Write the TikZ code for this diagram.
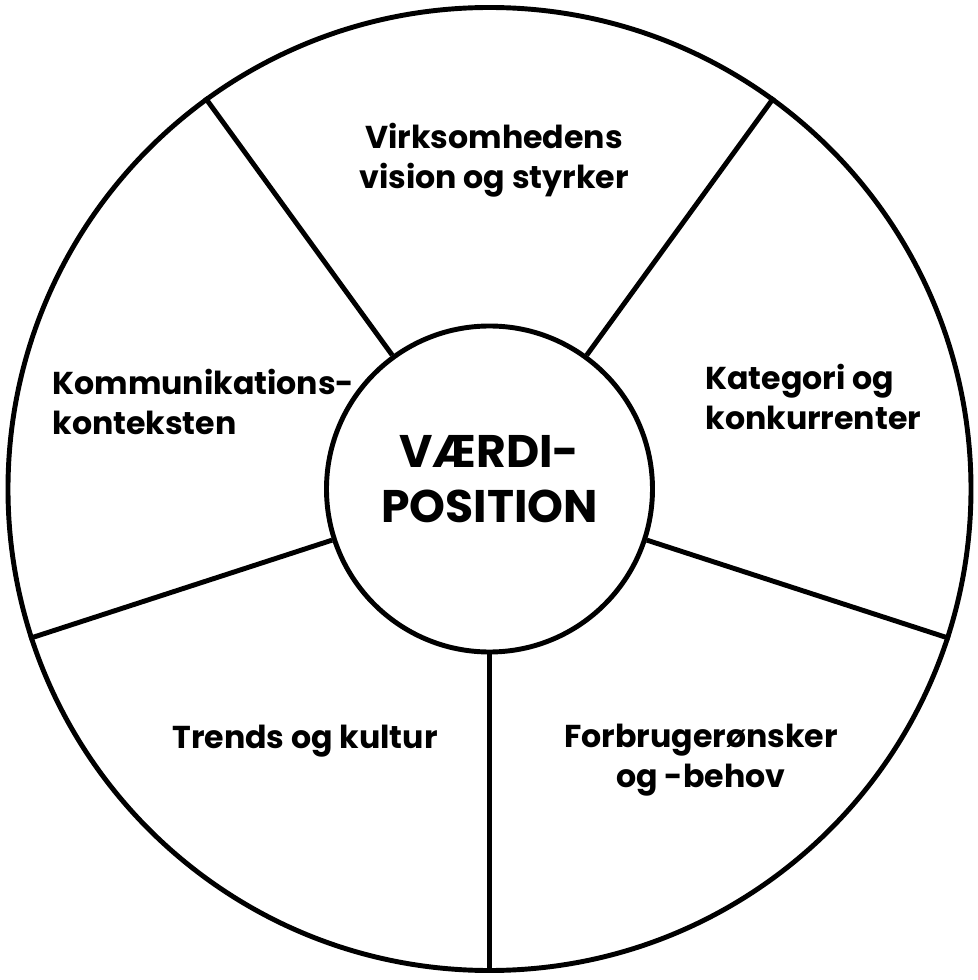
\documentclass[tikz,border=0pt]{standalone}
\usepackage{fontspec}
\setmainfont{Poppins}
\begin{document}
\begin{tikzpicture}[line width=2.8pt]
    \tikzstyle{ring}=[circle,draw=black,inner sep=0pt]
    \tikzstyle{sector}=[font=\bfseries\fontsize{18}{23}\selectfont, inner sep=0pt]
    \tikzstyle{core text}=[font=\bfseries\fontsize{26}{31}\selectfont, align=center, text depth=0.4cm]
    \useasboundingbox (-9.79,-9.82) rectangle (9.75,9.78);

    % Draw the outer wheel and the core circle
    \node[ring, minimum size=19.26cm] (wheel) at (0,0) {};
    \node[ring, minimum size=6.52cm, core text] (core) at (0,0) {VÆRDI-\\POSITION};

    % Draw the spokes between the two circles
    \foreach \angle in {-90,-18,54,126,198}
        \draw (core.\angle) -- (wheel.\angle);

    % Label the sectors
    \node[sector, align=center] (vision) at (0.09,6.58) {Virksomhedens\\vision og styrker};
    \node[sector, align=left, anchor=west] (kategori) at (4.27,1.84) {Kategori og\\konkurrenter};
    \node[sector, align=left, anchor=west] (kontekst) at (-8.79,1.74) {Kommunikations-\\konteksten};
    \node[sector, align=center] (trends) at (-3.69,-5.04) {Trends og kultur};
    \node[sector, align=center] (forbruger) at (4.23,-5.42) {Forbrugerønsker\\og -behov};

\end{tikzpicture}
\end{document}
